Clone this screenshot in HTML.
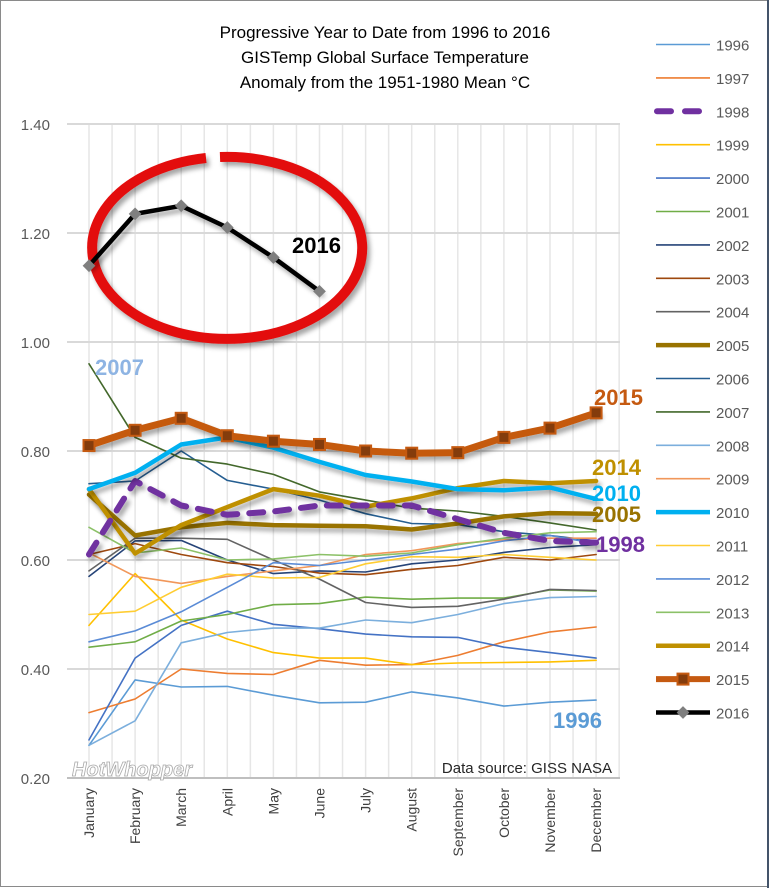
<!DOCTYPE html>
<html><head><meta charset="utf-8"><style>
html,body{margin:0;padding:0;background:#fff;}
svg{display:block;font-family:"Liberation Sans",sans-serif;}
</style></head><body>
<svg id="chart" width="770" height="888" xmlns="http://www.w3.org/2000/svg">
<defs>
<filter id="sh" x="-10%" y="-10%" width="130%" height="140%"><feDropShadow dx="3" dy="4" stdDeviation="2.5" flood-color="#000" flood-opacity="0.35"/></filter>
</defs>
<rect x="0.5" y="0.5" width="768" height="886" fill="#fff" stroke="#8a8a8a"/>
<line x1="768" y1="0" x2="768" y2="888" stroke="#44546a" stroke-width="2"/>
<g font-size="17" fill="#000" text-anchor="middle">
<text x="385" y="38">Progressive Year to Date from 1996 to 2016</text>
<text x="385" y="63">GISTemp Global Surface Temperature</text>
<text x="385" y="88">Anomaly from the 1951-1980 Mean °C</text>
</g>
<g id="grid"></g>
<g id="series"></g>
<g id="legend"></g>
<g id="annot"></g>
</svg>
<script>
const months=["January","February","March","April","May","June","July","August","September","October","November","December"];
const yTicks=[0.2,0.4,0.6,0.8,1.0,1.2,1.4];
const years=["1996","1997","1998","1999","2000","2001","2002","2003","2004","2005","2006","2007","2008","2009","2010","2011","2012","2013","2014","2015","2016"];
const s1996=[0.26,0.38,0.367,0.368,0.352,0.338,0.339,0.358,0.347,0.332,0.339,0.343];
const s1997=[0.32,0.345,0.40,0.392,0.39,0.416,0.407,0.408,0.425,0.45,0.468,0.477];
const s1998=[0.61,0.745,0.70,0.683,0.689,0.70,0.70,0.70,0.675,0.65,0.635,0.632];
const s1999=[0.48,0.575,0.49,0.455,0.43,0.42,0.42,0.408,0.411,0.412,0.413,0.416];
const s2000=[0.27,0.42,0.48,0.506,0.482,0.474,0.464,0.459,0.458,0.44,0.43,0.42];
const s2001=[0.44,0.45,0.488,0.50,0.518,0.52,0.532,0.528,0.53,0.53,0.545,0.543];
const s2002=[0.57,0.635,0.636,0.60,0.575,0.58,0.578,0.593,0.60,0.614,0.623,0.628];
const s2003=[0.61,0.63,0.61,0.595,0.588,0.576,0.573,0.583,0.59,0.605,0.60,0.61];
const s2004=[0.58,0.64,0.64,0.638,0.60,0.565,0.522,0.513,0.515,0.528,0.546,0.544];
const s2005=[0.72,0.645,0.66,0.668,0.664,0.663,0.662,0.656,0.667,0.68,0.686,0.685];
const s2006=[0.74,0.745,0.80,0.746,0.73,0.71,0.685,0.667,0.665,0.652,0.645,0.635];
const s2007=[0.96,0.825,0.787,0.776,0.757,0.725,0.71,0.695,0.69,0.68,0.668,0.655];
const s2008=[0.26,0.305,0.448,0.467,0.475,0.475,0.49,0.485,0.50,0.52,0.531,0.533];
const s2009=[0.613,0.57,0.557,0.57,0.58,0.59,0.61,0.617,0.63,0.637,0.64,0.64];
const s2010=[0.73,0.76,0.812,0.825,0.806,0.78,0.756,0.744,0.73,0.728,0.733,0.712];
const s2011=[0.50,0.506,0.55,0.574,0.567,0.568,0.593,0.606,0.605,0.61,0.605,0.60];
const s2012=[0.45,0.47,0.505,0.55,0.595,0.59,0.60,0.61,0.62,0.635,0.645,0.63];
const s2013=[0.66,0.613,0.622,0.60,0.602,0.61,0.607,0.613,0.628,0.64,0.65,0.652];
const s2014=[0.73,0.612,0.664,0.697,0.73,0.718,0.698,0.713,0.732,0.745,0.741,0.745];
const s2015=[0.81,0.838,0.86,0.828,0.818,0.812,0.80,0.796,0.797,0.825,0.842,0.87];
const s2016=[1.14,1.235,1.25,1.21,1.155,1.093];

const NS="http://www.w3.org/2000/svg";
const X0=89,DX=46.1,Y0=778,PX=545;
const xs=i=>X0+i*DX;
const ys=v=>Y0-(v-0.2)*PX;
function mk(t,a,p){const e=document.createElementNS(NS,t);for(const k in a)e.setAttribute(k,a[k]);p.appendChild(e);return e;}
const grid=document.getElementById('grid');
// vertical gridlines
for(let i=-1;i<=24;i++){const x=X0+i*DX/2; if(x<68||x>620)continue;
 const l=mk('line',{x1:x,y1:124,x2:x,y2:778,stroke:'#e6e6e6','stroke-width':1.5},grid);
 
 }
yTicks.forEach(v=>{const y=ys(v);
 const l=mk('line',{x1:67,y1:y,x2:620,y2:y,stroke:v===0.2?'#bfbfbf':'#d9d9d9','stroke-width':2},grid);
 
 
 const t=mk('text',{x:50,y:y+6,'text-anchor':'end','font-size':15,fill:'#595959'},grid);
 t.textContent=v.toFixed(2);
 
 });
months.forEach((m,i)=>{const x=xs(i);
 const t=mk('text',{x:0,y:0,'text-anchor':'end','font-size':14,fill:'#404040',transform:`translate(${x+5},788) rotate(-90)`},grid);
 t.textContent=m;
 
 });
const styles={
"1996":{c:'#5b9bd5',w:1.6},"1997":{c:'#ed7d31',w:1.6},"1998":{c:'#7030a0',w:6,d:'14 12'},"1999":{c:'#ffc000',w:1.6},
"2000":{c:'#4472c4',w:1.6},"2001":{c:'#70ad47',w:1.6},"2002":{c:'#264478',w:1.6},"2003":{c:'#9e480e',w:1.6},
"2004":{c:'#636363',w:1.6},"2005":{c:'#997300',w:4.5},"2006":{c:'#255e91',w:1.6},"2007":{c:'#43682b',w:1.6},
"2008":{c:'#7cafdd',w:1.6},"2009":{c:'#f1975a',w:1.6},"2010":{c:'#00b0f0',w:4.5},"2011":{c:'#ffcd33',w:1.6},
"2012":{c:'#5a8bd6',w:1.6},"2013":{c:'#8cc168',w:1.6},"2014":{c:'#bf9000',w:4.5},"2015":{c:'#c55a11',w:7,m:'sq'},
"2016":{c:'#000000',w:4.5,m:'dia'}};
const data={"1996":s1996,"1997":s1997,"1998":s1998,"1999":s1999,"2000":s2000,"2001":s2001,"2002":s2002,"2003":s2003,"2004":s2004,"2005":s2005,"2006":s2006,"2007":s2007,"2008":s2008,"2009":s2009,"2010":s2010,"2011":s2011,"2012":s2012,"2013":s2013,"2014":s2014,"2015":s2015,"2016":s2016};
const order=["1996","1997","1999","2000","2001","2002","2003","2004","2006","2007","2008","2009","2011","2012","2013","2005","2014","1998","2010","2015","2016"];
const sg=document.getElementById('series');
// red circle behind 2016
const circ=mk('path',{d:'M 220 157 A 135 91 0 1 1 206 158',fill:'none',stroke:'#e30e0e','stroke-width':10,filter:'url(#sh)'},sg);


order.forEach(y=>{const st=styles[y],v=data[y];
 const pts=v.map((d,i)=>xs(i).toFixed(1)+','+ys(d).toFixed(1)).join(' ');
 const a={points:pts,fill:'none',stroke:st.c,'stroke-width':st.w,'stroke-linejoin':'round','stroke-linecap':'round'};
 if(st.d)a['stroke-dasharray']=st.d;
 if(st.w>4)a.filter='url(#sh)';
 const pl=mk('polyline',a,sg);
 
 
 if(st.m==='sq')v.forEach((d,i)=>{const r=mk('rect',{x:xs(i)-5.5,y:ys(d)-5.5,width:11,height:11,fill:'#843c0c',stroke:'#c55a11','stroke-width':2},sg);
  
  });
 if(st.m==='dia')v.forEach((d,i)=>{const r=mk('rect',{x:-4.5,y:-4.5,width:9,height:9,fill:'#7f7f7f',transform:`translate(${xs(i)},${ys(d)}) rotate(45)`},sg);
  
  });
});
const lg=document.getElementById('legend');
years.forEach((y,i)=>{const st=styles[y],ly=44.5+i*33.4;
 const g=mk('g',{},lg);
 
 
 const a={x1:st.d?657:656,y1:ly,x2:st.d?700:710,y2:ly,stroke:st.c,'stroke-width':Math.min(st.w,6),'stroke-linecap':st.d?'round':'butt'};
 if(st.d)a['stroke-dasharray']='14 14';
 mk('line',a,g);
 if(st.m==='sq')mk('rect',{x:677.5,y:ly-5.5,width:11,height:11,fill:'#843c0c',stroke:'#c55a11','stroke-width':2},g);
 if(st.m==='dia')mk('rect',{x:-4.5,y:-4.5,width:9,height:9,fill:'#7f7f7f',transform:`translate(683,${ly}) rotate(45)`},g);
 const t=mk('text',{x:716,y:ly+6,'font-size':15,fill:'#595959'},g);t.textContent=y;});
const an=document.getElementById('annot');
const labels=[["2007",95,375,'#8eb4e3'],["2016",292,253,'#000'],["2015",594,405,'#c55a11'],["2014",592,475,'#bf9000'],["2010",592,501,'#00b0f0'],["2005",592,522,'#997300'],["1998",596,552,'#7030a0'],["1996",553,728,'#5b9bd5']];
labels.forEach(l=>{const t=mk('text',{x:l[1],y:l[2],'font-size':22,'font-weight':'bold',fill:l[3]},an);t.textContent=l[0];
 
 });
const ds=mk('text',{x:612,y:773,'text-anchor':'end','font-size':15,fill:'#262626'},an);ds.textContent="Data source: GISS NASA";


const wm=mk('text',{x:72,y:776,'font-size':20,'font-style':'italic','font-weight':'bold',fill:'#fff',stroke:'#aaa','stroke-width':0.8},an);wm.textContent="HotWhopper";


</script>
</body></html>
